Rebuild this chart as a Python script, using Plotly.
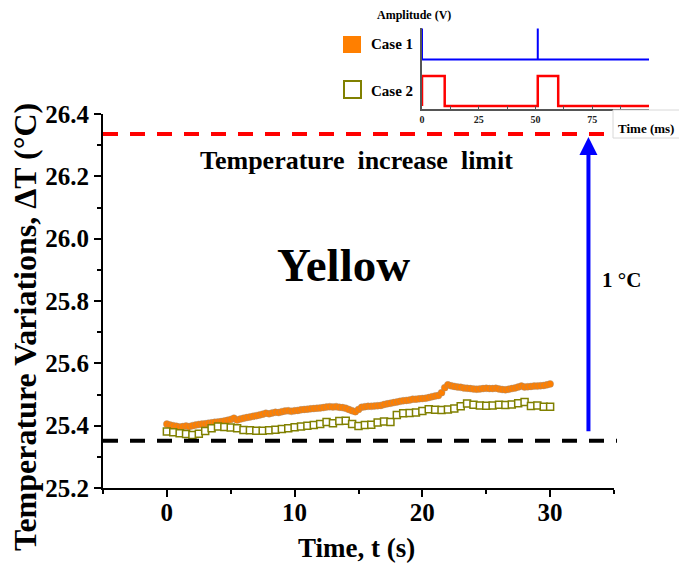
import plotly.graph_objects as go

# ---------------- data ----------------
t_step_case1 = 0.25
case1_temp = [
    25.405, 25.402, 25.400, 25.398, 25.396, 25.397, 25.399, 25.397,
    25.400, 25.402, 25.404, 25.405, 25.406, 25.408, 25.409, 25.411,
    25.412, 25.413, 25.415, 25.417, 25.420, 25.424, 25.418, 25.421,
    25.424, 25.426, 25.428, 25.430, 25.432, 25.434, 25.437, 25.440,
    25.438, 25.441, 25.443, 25.442, 25.445, 25.447, 25.448, 25.446,
    25.448, 25.449, 25.451, 25.452, 25.453, 25.454, 25.455, 25.456,
    25.457, 25.458, 25.460, 25.461, 25.460, 25.461, 25.459, 25.458,
    25.456, 25.452, 25.448, 25.445, 25.452, 25.459, 25.461, 25.462,
    25.462, 25.463, 25.464, 25.465, 25.468, 25.470, 25.472, 25.474,
    25.476, 25.478, 25.480, 25.481, 25.482, 25.485, 25.485, 25.486,
    25.487, 25.488, 25.490, 25.493, 25.495, 25.497, 25.506, 25.522,
    25.531, 25.528, 25.526, 25.524, 25.523, 25.521, 25.520, 25.519,
    25.518, 25.517, 25.518, 25.519, 25.520, 25.519, 25.519, 25.520,
    25.518, 25.516, 25.515, 25.517, 25.519, 25.521, 25.524, 25.527,
    25.524, 25.525, 25.526, 25.527, 25.527, 25.528, 25.529, 25.531,
    25.534,
]
t_case1 = [round(i * t_step_case1, 2) for i in range(len(case1_temp))]

t_step_case2 = 0.5
case2_temp = [
    25.381, 25.379, 25.376, 25.373, 25.370, 25.374, 25.383, 25.392, 25.397, 25.396,
    25.394, 25.392, 25.386, 25.385, 25.384, 25.384, 25.385, 25.387, 25.389, 25.392,
    25.395, 25.397, 25.400, 25.402, 25.405, 25.412, 25.408, 25.415, 25.416, 25.405,
    25.399, 25.402, 25.403, 25.410, 25.413, 25.412, 25.434, 25.440, 25.441, 25.442,
    25.447, 25.453, 25.451, 25.450, 25.452, 25.455, 25.462, 25.471, 25.467, 25.465,
    25.464, 25.465, 25.467, 25.466, 25.468, 25.472, 25.476, 25.463, 25.465, 25.461,
    25.461,
]
t_case2 = [round(i * t_step_case2, 2) for i in range(len(case2_temp))]

baseline_temp = 25.352
limit_temp = 26.336

# inset waveforms (time in ms, amplitude arbitrary)
wave1_t = [0, 0, 51, 51, 51, 100]
wave1_a = [2.58, 1.55, 1.55, 2.58, 1.55, 1.55]
wave2_t = [0, 0, 10, 10, 51, 51, 60, 60, 100]
wave2_a = [0, 1, 1, 0, 0, 1, 1, 0, 0]

x_ticks = [0, 10, 20, 30]
y_ticks = [25.2, 25.4, 25.6, 25.8, 26.0, 26.2, 26.4]
inset_ticks = [0, 25, 50, 75]

# ---------------- figure ----------------
W, H = 679, 570
ML, MR, MT, MB = 103, 20, 10, 82
PW, PH = W - ML - MR, H - MT - MB


def px(x):
    return (x - ML) / PW


def py(y):
    return (H - MB - y) / PH


FONT = "Liberation Serif, Times New Roman, serif"
ORANGE = "#FF7F00"
OLIVE = "#808000"

fig = go.Figure()

fig.add_trace(go.Scatter(
    x=t_case1, y=case1_temp, mode="markers", name="Case 1",
    marker=dict(symbol="circle", size=7, color=ORANGE,
                line=dict(color="rgba(140,140,140,0.6)", width=0.6)),
    xaxis="x", yaxis="y", showlegend=False,
))
fig.add_trace(go.Scatter(
    x=t_case2, y=case2_temp, mode="markers", name="Case 2",
    marker=dict(symbol="square", size=7, color="white",
                line=dict(color=OLIVE, width=1.5)),
    xaxis="x", yaxis="y", showlegend=False,
))

fig.add_trace(go.Scatter(
    x=wave1_t, y=wave1_a, mode="lines", line=dict(color="#0000FF", width=2),
    xaxis="x2", yaxis="y2", showlegend=False,
))
fig.add_trace(go.Scatter(
    x=wave2_t, y=wave2_a, mode="lines", line=dict(color="#FF0000", width=2.5),
    xaxis="x2", yaxis="y2", showlegend=False,
))

tickfont = dict(family=FONT, size=25, color="black", weight="bold")

fig.update_layout(
    template="none",
    width=W, height=H,
    margin=dict(l=ML, r=MR, t=MT, b=MB, pad=0, autoexpand=False),
    paper_bgcolor="white", plot_bgcolor="rgba(0,0,0,0)",
    font=dict(family=FONT, color="black"),
    showlegend=False,
    xaxis=dict(
        domain=[0, px(614)], range=[-5, 35], automargin=False,
        tickvals=x_ticks, ticks="outside", ticklen=7, tickwidth=2, tickcolor="black",
        minor=dict(dtick=5, tick0=0, ticks="outside", ticklen=4, tickwidth=2, tickcolor="black"),
        showline=True, linecolor="black", linewidth=2,
        showgrid=False, zeroline=False, tickfont=tickfont, ticklabelstandoff=-6,
    ),
    yaxis=dict(
        domain=[0, py(114)], range=[25.2, 26.4], automargin=False,
        tickvals=y_ticks, tickformat=".1f", ticks="outside", ticklen=7, tickwidth=2,
        tickcolor="black",
        minor=dict(dtick=0.1, tick0=25.2, ticks="outside", ticklen=4, tickwidth=2, tickcolor="black"),
        showline=True, linecolor="black", linewidth=2,
        showgrid=False, zeroline=False, tickfont=tickfont,
    ),
    xaxis2=dict(
        domain=[px(422), px(649)], range=[0, 100], anchor="y2", automargin=False,
        tickvals=inset_ticks, ticks="inside", ticklen=3, tickwidth=1,
        tickcolor="#555",
        minor=dict(dtick=12.5, tick0=0, ticks="inside", ticklen=3, tickwidth=1, tickcolor="#555"),
        showline=True, linecolor="#555", linewidth=1.5,
        showgrid=False, zeroline=False,
        tickfont=dict(family=FONT, size=10, color="#222", weight="bold"),
    ),
    yaxis2=dict(
        domain=[py(109), py(28)], range=[-0.1, 2.6], anchor="x2", automargin=False,
        showticklabels=False, ticks="",
        showline=True, linecolor="#555", linewidth=1.5,
        showgrid=False, zeroline=False,
    ),
)

# dashed reference lines
fig.add_shape(type="line", xref="paper", yref="y", x0=0, x1=px(617),
              y0=limit_temp, y1=limit_temp,
              line=dict(color="#FF0000", width=4, dash="15px,12px"))
fig.add_shape(type="line", xref="paper", yref="y", x0=0, x1=px(617),
              y0=baseline_temp, y1=baseline_temp,
              line=dict(color="black", width=4, dash="15px,12px"))

# inset "Time (ms)" box
fig.add_shape(type="rect", xref="paper", yref="paper",
              x0=px(613), x1=px(700), y0=py(138), y1=py(110),
              fillcolor="white", line=dict(color="#d8d8d8", width=1))

# legend symbols
fig.add_shape(type="rect", xref="paper", yref="paper",
              x0=px(343), x1=px(361), y0=py(53), y1=py(36),
              fillcolor=ORANGE, line=dict(color=ORANGE, width=0))
fig.add_shape(type="rect", xref="paper", yref="paper",
              x0=px(344), x1=px(361), y0=py(98), y1=py(81),
              fillcolor="white", line=dict(color=OLIVE, width=2))

# blue arrow (1 °C)
fig.add_annotation(x=33, y=26.326, xref="x", yref="y",
                   ax=33, ay=25.377, axref="x", ayref="y",
                   text="", showarrow=True, arrowhead=2, arrowsize=0.9,
                   arrowwidth=4, arrowcolor="#0000FF")


def label(text, x, y, size, angle=0, color="black"):
    fig.add_annotation(x=px(x), y=py(y), xref="paper", yref="paper",
                       text=text, showarrow=False, textangle=angle,
                       xanchor="center", yanchor="middle",
                       font=dict(family=FONT, size=size, color=color, weight="bold"))


label("Temperature  increase  limit", 356, 160, 26)
label("Yellow", 343, 265, 47)
label("1 °C", 621, 280, 21)
label("Temperature Variations, ΔT (°C)", 25, 327, 32, angle=-90)
label("Time, t (s)", 356, 548, 27)
label("Amplitude (V)", 414, 15, 12)
label("Case 1", 392, 44, 15)
label("Case 2", 392, 91, 15)
label("Time (ms)", 646, 128, 13)

fig.write_html("out.html")
